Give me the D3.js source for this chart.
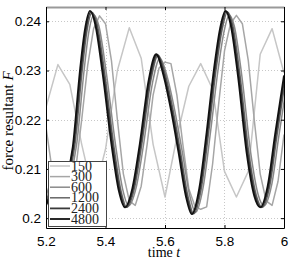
<!DOCTYPE html>
<html><head><meta charset="utf-8">
<script src="https://cdn.jsdelivr.net/npm/d3@7"></script>
<style>body{margin:0;background:#fff}</style>
</head><body>
<svg id="c" width="291" height="259"></svg>
<script>
// ---- data ----
const seriesNames = ["150", "300", "600", "1200", "2400", "4800"];
const xTicks = [5.2, 5.4, 5.6, 5.8, 6.0];
const xTickLabels = ["5.2", "5.4", "5.6", "5.8", "6"];
const yTicks = [0.20, 0.21, 0.22, 0.23, 0.24];
const yTickLabels = ["0.2", "0.21", "0.22", "0.23", "0.24"];

const t150 = [5.20,5.24,5.28,5.32,5.36,5.40,5.44,5.48,5.52,5.56,5.60,5.64,5.68,5.72,5.76,5.80,5.84,5.88,5.92,5.96,6.00];
const v150 = [0.2225,0.2312,0.2272,0.2150,0.2045,0.2140,0.2300,0.2387,0.2325,0.2150,0.2043,0.2165,0.2268,0.2314,0.2262,0.2095,0.2043,0.2095,0.2333,0.2385,0.2295];

const t300 = [5.20,5.22,5.24,5.26,5.28,5.30,5.32,5.34,5.36,5.38,5.40,5.42,5.44,5.46,5.48,5.50,5.52,5.54,5.56,5.58,5.60,5.62,5.64,5.66,5.68,5.70,5.72,5.74,5.76,5.78,5.80,5.82,5.84,5.86,5.88,5.90,5.92,5.94,5.96,5.98,6.00];
const v300 = [0.2185,0.2100,0.2045,0.2020,0.2040,0.2100,0.2200,0.2310,0.2385,0.2411,0.2395,0.2320,0.2200,0.2090,0.2035,0.2026,0.2065,0.2150,0.2250,0.2305,0.2317,0.2314,0.2250,0.2150,0.2060,0.2025,0.2018,0.2023,0.2110,0.2230,0.2340,0.2395,0.2412,0.2395,0.2320,0.2200,0.2090,0.2035,0.2026,0.2075,0.2170];

const t600 = [5.190,5.213,5.243,5.273,5.303,5.328,5.343,5.361,5.378,5.403,5.433,5.458,5.478,5.503,5.528,5.558,5.583,5.608,5.633,5.658,5.683,5.703,5.728,5.753,5.778,5.798,5.816,5.833,5.858,5.888,5.913,5.933,5.958,5.983,6.013];
const v600 = [0.2085,0.2040,0.2014,0.2060,0.2150,0.2300,0.2375,0.2413,0.2390,0.2294,0.2152,0.2058,0.2025,0.2062,0.2150,0.2275,0.2325,0.2286,0.2218,0.2135,0.2046,0.2012,0.2062,0.2175,0.2300,0.2378,0.2413,0.2390,0.2290,0.2133,0.2048,0.2025,0.2066,0.2168,0.2288];

const t1200 = [5.190,5.207,5.237,5.267,5.297,5.322,5.337,5.355,5.372,5.397,5.427,5.452,5.472,5.497,5.522,5.552,5.577,5.602,5.627,5.652,5.677,5.697,5.722,5.747,5.772,5.792,5.810,5.827,5.852,5.882,5.907,5.927,5.952,5.977,6.007];
const v1200 = [0.2075,0.2039,0.2012,0.2060,0.2148,0.2302,0.2378,0.2418,0.2394,0.2296,0.2152,0.2056,0.2022,0.2060,0.2150,0.2278,0.2331,0.2290,0.2220,0.2135,0.2045,0.2009,0.2060,0.2175,0.2303,0.2383,0.2419,0.2394,0.2291,0.2132,0.2046,0.2022,0.2065,0.2170,0.2290];

const t2400 = [5.190,5.203,5.233,5.263,5.293,5.318,5.333,5.351,5.368,5.393,5.423,5.448,5.468,5.493,5.518,5.548,5.573,5.598,5.623,5.648,5.673,5.693,5.718,5.743,5.768,5.788,5.806,5.823,5.848,5.878,5.903,5.923,5.948,5.973,6.003];
const v2400 = [0.2060,0.2038,0.2012,0.2060,0.2148,0.2302,0.2378,0.2419,0.2394,0.2296,0.2152,0.2056,0.2022,0.2060,0.2150,0.2278,0.2332,0.2290,0.2220,0.2135,0.2045,0.2009,0.2060,0.2175,0.2303,0.2384,0.2420,0.2394,0.2291,0.2132,0.2046,0.2022,0.2065,0.2170,0.2290];

const t4800 = [5.20,5.23,5.26,5.29,5.315,5.33,5.348,5.365,5.39,5.42,5.445,5.465,5.49,5.515,5.545,5.57,5.595,5.62,5.645,5.67,5.69,5.715,5.74,5.765,5.785,5.803,5.82,5.845,5.875,5.90,5.92,5.945,5.97,6.00];
const v4800 = [0.2040,0.2010,0.2060,0.2145,0.2305,0.2380,0.2421,0.2395,0.2295,0.2150,0.2055,0.2022,0.2060,0.2150,0.2280,0.2333,0.2290,0.2220,0.2135,0.2045,0.2008,0.2060,0.2175,0.2305,0.2385,0.2421,0.2395,0.2290,0.2130,0.2045,0.2022,0.2065,0.2170,0.2290];

const seriesT = [t150, t300, t600, t1200, t2400, t4800];
const seriesV = [v150, v300, v600, v1200, v2400, v4800];
const colors = ["#c6c6c6", "#a6a6a6", "#8a8a8a", "#666666", "#3a3a3a", "#111111"];
const smooth = [false, false, true, true, true, true];

// ---- chart ----
const L = 46, R = 284, T = 7, B = 228;
const svg = d3.select("#c");
const x = d3.scaleLinear().domain([5.2, 6.0]).range([L, R]);
const y = d3.scaleLinear().domain([0.198, 0.2429]).range([B, T]);

// grid
const grid = svg.append("g").attr("stroke", "#c8c8c8").attr("stroke-width", 1).attr("stroke-dasharray", "1,2");
grid.selectAll("line.gx").data(xTicks.slice(1, -1)).join("line")
  .attr("x1", d => Math.round(x(d)) + 0.5).attr("x2", d => Math.round(x(d)) + 0.5)
  .attr("y1", T).attr("y2", B);
grid.selectAll("line.gy").data(yTicks).join("line")
  .attr("y1", d => Math.round(y(d)) + 0.5).attr("y2", d => Math.round(y(d)) + 0.5)
  .attr("x1", L).attr("x2", R);

// clip
svg.append("clipPath").attr("id", "clip").append("rect")
  .attr("x", L).attr("y", T).attr("width", R - L).attr("height", B - T);

const plot = svg.append("g").attr("clip-path", "url(#clip)");
seriesNames.forEach((name, i) => {
  const pts = seriesT[i].map((t, j) => [t, seriesV[i][j]]);
  const line = d3.line().x(d => x(d[0])).y(d => y(d[1]))
    .curve(smooth[i] ? d3.curveMonotoneX : d3.curveLinear);
  plot.append("path").datum(pts).attr("d", line)
    .attr("fill", "none").attr("stroke", colors[i])
    .attr("stroke-width", i >= 4 ? 1.8 : 1.5).attr("stroke-linejoin", "round");
});

// axes (boxed, inward ticks)
const axB = d3.axisBottom(x).tickValues(xTicks).tickFormat((d, i) => xTickLabels[i]).tickSizeInner(-3).tickSizeOuter(0).tickPadding(8);
const axT = d3.axisTop(x).tickValues(xTicks).tickFormat("").tickSizeInner(-3).tickSizeOuter(0);
const axL = d3.axisLeft(y).tickValues(yTicks).tickFormat((d, i) => yTickLabels[i]).tickSizeInner(-3).tickSizeOuter(0).tickPadding(5);
const axR = d3.axisRight(y).tickValues(yTicks).tickFormat("").tickSizeInner(-3).tickSizeOuter(0);

function styleAxis(g, col, w) {
  g.selectAll(".domain").attr("stroke", col).attr("stroke-width", w);
  g.selectAll(".tick line").attr("stroke", "#000");
  g.selectAll("text").attr("font-family", "'Liberation Sans', Arial, sans-serif")
    .attr("font-size", 13.5).attr("fill", "#000");
}
styleAxis(svg.append("g").attr("transform", `translate(0,${B})`).call(axB), "#000", 1);
styleAxis(svg.append("g").attr("transform", `translate(0,${T})`).call(axT), "#999", 2);
styleAxis(svg.append("g").attr("transform", `translate(${L},0)`).call(axL), "#000", 1);
styleAxis(svg.append("g").attr("transform", `translate(${R},0)`).call(axR), "#000", 1);

// axis titles
svg.append("text").attr("x", 164).attr("y", 257).attr("text-anchor", "middle")
  .attr("font-family", "'Liberation Serif', 'Times New Roman', serif").attr("font-size", 14)
  .html('time <tspan font-style="italic">t</tspan>');
svg.append("text").attr("transform", "translate(13,121) rotate(-90)").attr("text-anchor", "middle")
  .attr("font-family", "'Liberation Serif', 'Times New Roman', serif").attr("font-size", 15)
  .html('force resultant <tspan font-style="italic">F</tspan>');

// legend
const lg = svg.append("g");
lg.append("rect").attr("x", 48.5).attr("y", 161.5).attr("width", 58).attr("height", 65)
  .attr("fill", "#fff").attr("stroke", "#444").attr("stroke-width", 1);
seriesNames.forEach((name, i) => {
  const cy = 166 + i * 10.6;
  lg.append("line").attr("x1", 50).attr("x2", 70).attr("y1", cy).attr("y2", cy)
    .attr("stroke", colors[i]).attr("stroke-width", i >= 4 ? 1.8 : 1.5);
  lg.append("text").attr("x", 71).attr("y", cy + 4.5)
    .attr("font-family", "'Liberation Serif', 'Times New Roman', serif").attr("font-size", 14)
    .attr("fill", "#222").text(name);
});
</script></body></html>
